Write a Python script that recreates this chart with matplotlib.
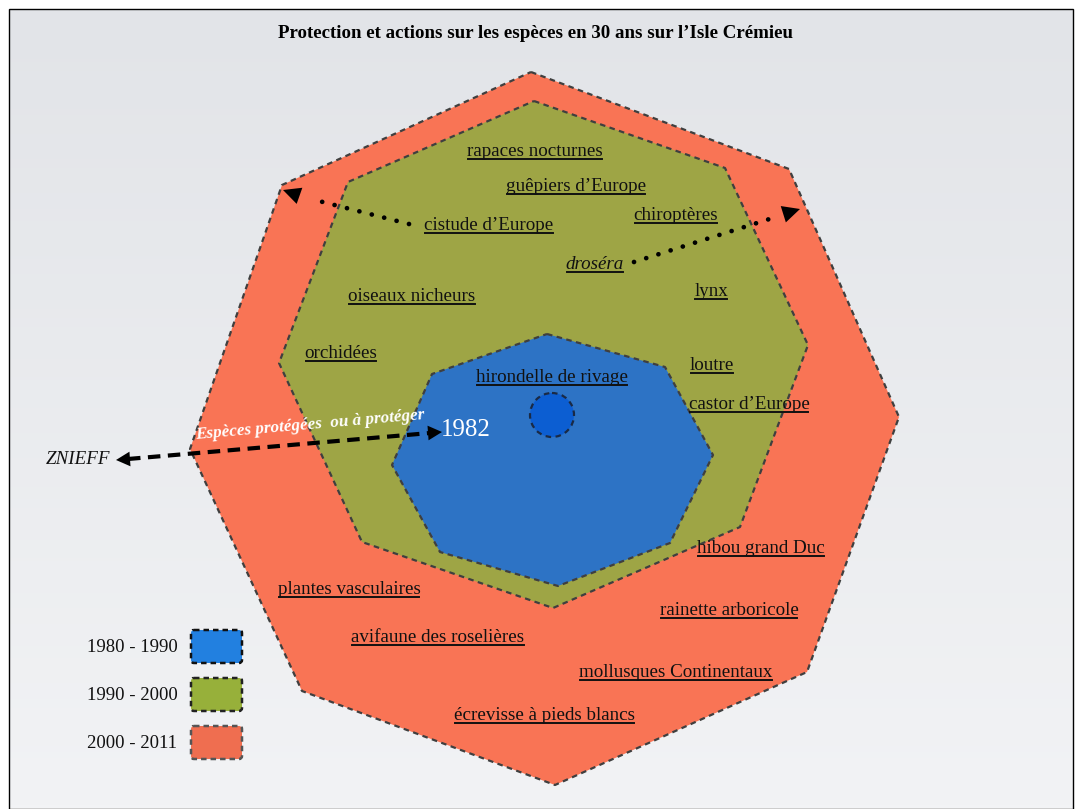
import numpy as np
import matplotlib
matplotlib.use("Agg")
import matplotlib.pyplot as plt
from matplotlib.patches import Polygon, Circle, FancyBboxPatch
from matplotlib.lines import Line2D

# polygon outlines (pixel coords, y down)
outer_x = [531, 789, 899, 807, 555, 302, 190, 282]
outer_y = [72, 169, 417, 672, 785, 691, 449, 185]
middle_x = [534, 725, 808, 740, 553, 362, 279, 348]
middle_y = [101, 168, 345, 527, 608, 542, 363, 182]
inner_x = [547, 665, 713, 670, 558, 440, 392, 432]
inner_y = [334, 367, 455, 543, 586, 552, 465, 374]
core_xy = (552, 415)
core_r = 22

# species labels: (text, x centre, baseline)
labels = ["rapaces nocturnes", "guêpiers d\u2019Europe", "chiroptères", "cistude d\u2019Europe",
          "lynx", "oiseaux nicheurs", "orchidées", "loutre", "hirondelle de rivage",
          "castor d\u2019Europe", "hibou grand Duc", "plantes vasculaires", "rainette arboricole",
          "avifaune des roselières", "mollusques Continentaux", "écrevisse à pieds blancs"]
label_x = [535, 576, 676, 489, 711, 412, 341, 712, 552, 749, 761, 349, 729, 438, 676, 544]
label_y = [156, 191, 220, 230, 296, 301, 358, 370, 382, 409, 553, 594, 615, 642, 677, 720]

periods = ["1980 - 1990", "1990 - 2000", "2000 - 2011"]
period_colors = ["#2280E0", "#97B03A", "#EF6E50"]
period_edges = ["#111111", "#222222", "#555555"]

fill_outer = "#F97455"
fill_middle = "#9EA545"
fill_inner = "#2D73C5"
fill_core = "#0C5ED2"
edge_col = "#3f3f3f"

serif = ["Liberation Serif", "DejaVu Serif"]
fs = 13.7

fig = plt.figure(figsize=(10.75, 8.09), dpi=100)
ax = fig.add_axes([0, 0, 1, 1])
ax.set_xlim(0, 1075)
ax.set_ylim(809, 0)
ax.axis("off")

# background gradient + frame
grad = np.linspace(0, 1, 256).reshape(-1, 1)
cmap = matplotlib.colors.LinearSegmentedColormap.from_list("bg", ["#E2E4E8", "#F2F3F5"])
ax.imshow(grad, cmap=cmap, extent=(9, 1073, 808, 9), aspect="auto", zorder=0)
ax.add_patch(plt.Rectangle((8.5, 8.5), 1064, 800, fill=False, ec="black", lw=1, zorder=1))

ax.text(535, 33, "Protection et actions sur les espèces en 30 ans sur l\u2019Isle Crémieu",
        ha="center", va="center", fontsize=13.6, fontweight="bold", family=serif, zorder=10)

dash = (0, (2.5, 2))
for xs, ys, fc, z in [(outer_x, outer_y, fill_outer, 2), (middle_x, middle_y, fill_middle, 3),
                      (inner_x, inner_y, fill_inner, 4)]:
    ax.add_patch(Polygon(np.column_stack([xs, ys]), closed=True, fc=fc, ec=edge_col,
                         lw=1.6, ls=dash, joinstyle="round", zorder=z))
ax.add_patch(Circle(core_xy, core_r, fc=fill_core, ec="#1a2a45", lw=1.6, ls=dash, zorder=5))

# underlined labels
txts = []
for t, x, y in zip(labels, label_x, label_y):
    txts.append(ax.text(x, y, t, ha="center", va="baseline", fontsize=fs, family=serif,
                        color="#111111", zorder=10))
txts.append(ax.text(595, 269, "droséra", ha="center", va="baseline", fontsize=fs, family=serif,
                    style="italic", color="#111111", zorder=10))

ax.text(78, 459, "ZNIEFF", ha="center", va="center", fontsize=fs, family=serif,
        style="italic", color="#111111", zorder=10)
ax.text(466, 430, "1982", ha="center", va="center", fontsize=18, family=serif,
        color="white", zorder=10)
ax.text(310, 425, "Espèces protégées  ou à protéger", ha="center", va="center", rotation=5,
        rotation_mode="anchor", fontsize=12.3, family=serif, style="italic",
        fontweight="bold", color="white", zorder=10)

# dotted arrows
def dotted_arrow(x0, y0, x1, y1):
    ax.plot([x0, x1], [y0, y1], color="black", lw=3.4, ls=(0, (0.01, 2.7)),
            dash_capstyle="round", zorder=9)

def head(tip, frm, size=28, w=0.22, l=0.45):
    ax.annotate("", xy=tip, xytext=frm,
                arrowprops=dict(arrowstyle="-|>,head_length=%s,head_width=%s" % (l, w),
                                mutation_scale=size, color="black",
                                lw=0, shrinkA=0, shrinkB=0), zorder=9)

dotted_arrow(409, 224, 311, 199)
head((283, 190), (300, 196))
dotted_arrow(634, 262, 779, 216)
head((800, 209), (784, 214))

# dashed double arrow ZNIEFF <-> 1982
ax.plot([128, 430], [459, 433], color="black", lw=3, ls=(0, (3, 1.8)), zorder=9)
head((116, 460), (130, 459), 24, 0.22, 0.42)
head((442, 432), (428, 433), 24, 0.22, 0.42)

# legend
for i, (p, c, e) in enumerate(zip(periods, period_colors, period_edges)):
    yc = 646 + i * 48
    ax.text(132, yc + 1, p, ha="center", va="center", fontsize=13.5, family=serif,
            color="#111111", zorder=10)
    ax.add_patch(FancyBboxPatch((191, yc - 16), 51, 33, boxstyle="round,pad=0,rounding_size=3",
                                fc=c, ec=e, lw=1.8, ls=(0, (2.2, 1.6)), zorder=6))

# underline every species label
fig.canvas.draw()
r = fig.canvas.get_renderer()
inv = ax.transData.inverted()
for t in txts:
    bb = t.get_window_extent(r)
    (xa, _), (xb, _) = inv.transform([[bb.x0, 0], [bb.x1, 0]])
    yb = t.get_position()[1] + 3
    ax.add_line(Line2D([xa + 1, xb - 1], [yb, yb], color="#111111", lw=1.4, zorder=10))

fig.savefig("out.png", dpi=100)
